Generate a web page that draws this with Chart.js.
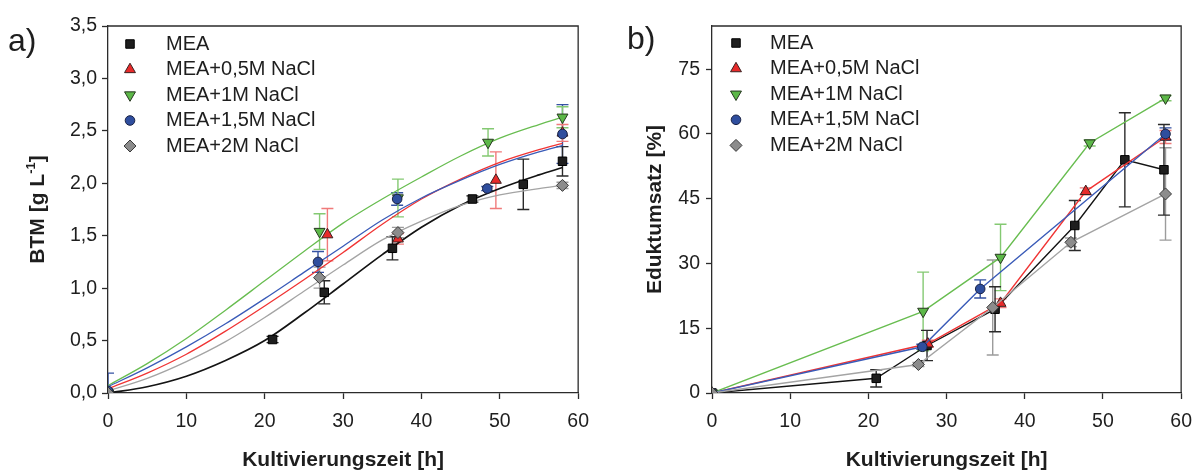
<!DOCTYPE html>
<html>
<head>
<meta charset="utf-8">
<script src="https://cdn.jsdelivr.net/npm/chart.js"></script>
<style>
  html, body { margin: 0; padding: 0; background: #fff; }
  #wrap { position: relative; width: 1203px; height: 474px; overflow: hidden; }
  #chartA { position: absolute; left: 0; top: 0; }
  #chartB { position: absolute; left: 600px; top: 0; }
</style>
</head>
<body>
<div id="wrap">
  <canvas id="chartA" width="600" height="474"></canvas>
  <canvas id="chartB" width="603" height="474"></canvas>
</div>
<script>
// a) BTM over time, measured points
const btmTimeMEA = [0, 21, 27.6, 36.3, 46.5, 53, 58];
const btmMEA     = [0, 0.51, 0.96, 1.38, 1.85, 1.99, 2.21];
const btmErrMEA  = [0.02, 0.03, 0.11, 0.11, 0.03, 0.24, 0.14];

const btmTime05 = [0, 28, 37, 49.5, 58];
const btm05     = [0, 1.51, 1.47, 2.03, 2.48];
const btmErr05  = [0.03, 0.25, 0.05, 0.27, 0.08];

const btmTime1 = [0, 27, 37, 48.5, 58];
const btm1     = [0, 1.54, 1.86, 2.39, 2.63];
const btmErr1  = [0.02, 0.17, 0.18, 0.13, 0.10];

const btmTime15 = [0, 26.8, 36.9, 48.4, 58];
const btm15     = [0.02, 1.25, 1.85, 1.95, 2.47];
const btmErr15  = [0.17, 0.10, 0.06, 0.02, 0.28];

const btmTime2 = [0, 27, 37, 58];
const btm2     = [0, 1.10, 1.53, 1.98];
const btmErr2  = [0.02, 0.10, 0.05, 0.03];

// a) fitted growth curves
const fitTime   = [0, 5, 10, 15, 20, 25, 30, 35, 40, 45, 50, 55, 58];
const fitMEA    = [0.00, 0.06, 0.16, 0.31, 0.50, 0.76, 1.04, 1.32, 1.58, 1.79, 1.95, 2.08, 2.15];
const fitNaCl05 = [0.04, 0.19, 0.37, 0.59, 0.83, 1.08, 1.34, 1.61, 1.85, 2.04, 2.20, 2.32, 2.38];
const fitNaCl1  = [0.07, 0.28, 0.52, 0.79, 1.07, 1.35, 1.62, 1.85, 2.06, 2.26, 2.43, 2.56, 2.63];
const fitNaCl15 = [0.06, 0.24, 0.44, 0.66, 0.90, 1.15, 1.40, 1.65, 1.86, 2.03, 2.18, 2.30, 2.36];
const fitNaCl2  = [0.02, 0.14, 0.30, 0.49, 0.72, 0.97, 1.22, 1.46, 1.64, 1.79, 1.89, 1.95, 1.98];

// b) Eduktumsatz over time
const umsTimeMEA = [0, 21, 27.5, 36.2, 46.4, 52.8, 57.8];
const umsMEA     = [0, 3.4, 11.0, 19.4, 38.8, 54.0, 51.7];
const umsErrMEA  = [0.4, 2.0, 3.5, 5.2, 5.8, 10.9, 10.5];

const umsTime05 = [0, 27.6, 36.9, 47.8, 58];
const ums05     = [0, 11.4, 20.8, 46.7, 59.3];
const umsErr05  = [0.3, 0.8, 1.0, 0.8, 1.5];

const umsTime1 = [0, 27, 36.9, 48.3, 58];
const ums1     = [0, 18.9, 31.4, 57.9, 68.3];
const umsErr1  = [0.3, 9.1, 7.7, 0.7, 0.6];

const umsTime15 = [0, 26.9, 34.3, 58];
const ums15     = [0, 10.7, 24.1, 60.0];
const umsErr15  = [0.3, 0.6, 2.1, 1.4];

const umsTime2 = [0, 26.4, 35.9, 45.9, 58];
const ums2     = [0, 6.6, 19.8, 34.9, 46.1];
const umsErr2  = [0.3, 0.5, 11.0, 1.0, 10.7];

const timeTicks = [0, 10, 20, 30, 40, 50, 60];
const seriesNames = ['MEA', 'MEA+0,5M NaCl', 'MEA+1M NaCl', 'MEA+1,5M NaCl', 'MEA+2M NaCl'];

const FONT = '"Liberation Sans", Arial, Helvetica, sans-serif';
const AXIS = '#2b2b2b';

Chart.defaults.font.family = FONT;
Chart.defaults.color = '#1e1e1e';

const pts = (xs, ys) => xs.map((x, i) => ({ x: x, y: ys[i] }));

// marker look per series
const styles = [
  { pointStyle: 'rect',     pointRadius: 6,   rotation: 0,   fill: '#1e1e1e', edge: '#000000', line: '#141414', err: '#2a2a2a' },
  { pointStyle: 'triangle', pointRadius: 6.3, rotation: 0,   fill: '#e82a2a', edge: '#3a2020', line: '#f03434', err: '#f07a7a' },
  { pointStyle: 'triangle', pointRadius: 6.3, rotation: 180, fill: '#5cb848', edge: '#26361f', line: '#68bd50', err: '#84c972' },
  { pointStyle: 'circle',   pointRadius: 4.8, rotation: 0,   fill: '#2f4e9e', edge: '#1a2244', line: '#3a5bb8', err: '#3552a3' },
  { pointStyle: 'rectRot',  pointRadius: 6,   rotation: 0,   fill: '#8c8c8c', edge: '#3a3a3a', line: '#a4a4a4', err: '#9c9c9c' }
];

function markerSet(i, xs, ys, errs, joinLine) {
  const s = styles[i];
  return {
    label: seriesNames[i],
    data: pts(xs, ys),
    errors: errs,
    errorColor: s.err,
    inLegend: true,
    showLine: joinLine,
    borderColor: s.line,
    borderWidth: 1.4,
    tension: 0,
    pointStyle: s.pointStyle,
    pointRotation: s.rotation,
    pointRadius: s.pointRadius,
    pointHoverRadius: s.pointRadius,
    pointBackgroundColor: s.fill,
    pointBorderColor: s.edge,
    pointBorderWidth: 1,
    order: 5 - i
  };
}

function curveSet(i, ys) {
  return {
    label: seriesNames[i] + ' fit',
    data: pts(fitTime, ys),
    showLine: true,
    borderColor: styles[i].line,
    borderWidth: i === 0 ? 1.7 : 1.3,
    cubicInterpolationMode: 'monotone',
    pointRadius: 0,
    pointHoverRadius: 0,
    order: 20 - i
  };
}

// vertical error bars with caps, drawn beneath the markers
const errorBars = {
  id: 'errorBars',
  beforeDatasetsDraw(chart) {
    const { ctx, chartArea } = chart;
    const xs = chart.scales.x, ys = chart.scales.y;
    ctx.save();
    ctx.beginPath();
    ctx.rect(chartArea.left, chartArea.top, chartArea.right - chartArea.left, chartArea.bottom - chartArea.top);
    ctx.clip();
    ctx.lineWidth = 1.4;
    chart.data.datasets.slice().reverse().forEach(ds => {
      if (!ds.errors) return;
      ctx.strokeStyle = ds.errorColor;
      ds.data.forEach((p, j) => {
        const e = ds.errors[j];
        if (!e) return;
        const x = xs.getPixelForValue(p.x);
        const yTop = ys.getPixelForValue(p.y + e);
        const yBot = ys.getPixelForValue(p.y - e);
        ctx.beginPath();
        ctx.moveTo(x, yTop); ctx.lineTo(x, yBot);
        ctx.moveTo(x - 6, yTop); ctx.lineTo(x + 6, yTop);
        ctx.moveTo(x - 6, yBot); ctx.lineTo(x + 6, yBot);
        ctx.stroke();
      });
    });
    ctx.restore();
  }
};

// top and right frame lines
const frame = {
  id: 'frame',
  afterDraw(chart) {
    const { ctx, chartArea } = chart;
    ctx.save();
    ctx.strokeStyle = AXIS;
    ctx.lineWidth = 1.3;
    ctx.beginPath();
    ctx.moveTo(chartArea.left, chartArea.top);
    ctx.lineTo(chartArea.right, chartArea.top);
    ctx.lineTo(chartArea.right, chartArea.bottom);
    ctx.stroke();
    ctx.restore();
  }
};

// legend box inside the plot area
const innerLegend = {
  id: 'innerLegend',
  afterDraw(chart, args, opts) {
    const { ctx, chartArea } = chart;
    let row = 0;
    ctx.save();
    ctx.font = '20px ' + FONT;
    ctx.textBaseline = 'middle';
    ctx.textAlign = 'left';
    chart.data.datasets.forEach(ds => {
      if (!ds.inLegend) return;
      const y = chartArea.top + opts.top + row * opts.gap;
      ctx.fillStyle = ds.pointBackgroundColor;
      ctx.strokeStyle = ds.pointBorderColor;
      ctx.lineWidth = ds.pointBorderWidth;
      Chart.helpers.drawPoint(ctx, {
        pointStyle: ds.pointStyle,
        rotation: ds.pointRotation,
        radius: ds.pointRadius,
        borderWidth: ds.pointBorderWidth
      }, chartArea.left + opts.markerX, y);
      ctx.fillStyle = '#1e1e1e';
      ctx.fillText(ds.label, chartArea.left + opts.textX, y);
      row++;
    });
    ctx.restore();
  }
};

// panel letter and a y title that needs a superscript
const panelText = {
  id: 'panelText',
  afterDraw(chart, args, opts) {
    const { ctx, chartArea } = chart;
    ctx.save();
    ctx.fillStyle = '#1e1e1e';
    ctx.font = '32px ' + FONT;
    ctx.textBaseline = 'middle';
    ctx.textAlign = 'left';
    ctx.fillText(opts.tag, opts.tagX, opts.tagY);
    if (opts.yBase) {
      const cy = (chartArea.top + chartArea.bottom) / 2;
      const big = 'bold 21px ' + FONT, small = 'bold 13px ' + FONT;
      ctx.font = big;
      const w1 = ctx.measureText(opts.yBase).width;
      const w3 = ctx.measureText(opts.yTail).width;
      ctx.font = small;
      const w2 = ctx.measureText(opts.ySup).width;
      ctx.translate(opts.yTitleX, cy);
      ctx.rotate(-Math.PI / 2);
      ctx.textBaseline = 'alphabetic';
      let x = -(w1 + w2 + w3) / 2;
      ctx.font = big;
      ctx.fillText(opts.yBase, x, 7.5);
      x += w1;
      ctx.font = small;
      ctx.fillText(opts.ySup, x, -1);
      x += w2;
      ctx.font = big;
      ctx.fillText(opts.yTail, x, 7.5);
    }
    ctx.restore();
  }
};

function timeAxis() {
  return {
    type: 'linear',
    min: 0,
    max: 60,
    afterBuildTicks: s => { s.ticks = timeTicks.map(v => ({ value: v })); },
    afterFit: s => { s.height = 81; },
    ticks: { font: { size: 19.5 }, padding: 11, color: '#1e1e1e' },
    grid: { drawOnChartArea: false, drawTicks: true, tickLength: 6, tickColor: AXIS, tickWidth: 1.3 },
    border: { color: AXIS, width: 1.3 },
    title: { display: true, text: 'Kultivierungszeit [h]', font: { size: 21, weight: 'bold' }, padding: { top: 0, bottom: 1 }, color: '#1e1e1e' }
  };
}

const chartA = new Chart(document.getElementById('chartA'), {
  type: 'scatter',
  data: {
    datasets: [
      markerSet(0, btmTimeMEA, btmMEA, btmErrMEA, false),
      markerSet(1, btmTime05, btm05, btmErr05, false),
      markerSet(2, btmTime1, btm1, btmErr1, false),
      markerSet(3, btmTime15, btm15, btmErr15, false),
      markerSet(4, btmTime2, btm2, btmErr2, false),
      curveSet(0, fitMEA),
      curveSet(1, fitNaCl05),
      curveSet(2, fitNaCl1),
      curveSet(3, fitNaCl15),
      curveSet(4, fitNaCl2)
    ]
  },
  options: {
    responsive: false,
    animation: false,
    devicePixelRatio: 1,
    layout: { padding: { left: 0, top: 26, right: 19, bottom: 0 } },
    scales: {
      x: timeAxis(),
      y: {
        type: 'linear',
        min: 0,
        max: 3.5,
        afterFit: s => { s.width = 108; },
        ticks: { stepSize: 0.5, font: { size: 19.5 }, padding: 5, color: '#1e1e1e',
                 callback: v => v.toFixed(1).replace('.', ',') },
        grid: { drawOnChartArea: false, drawTicks: true, tickLength: 6, tickColor: AXIS, tickWidth: 1.3 },
        border: { color: AXIS, width: 1.3 },
        title: { display: false }
      }
    },
    plugins: {
      legend: { display: false },
      tooltip: { enabled: false },
      innerLegend: { top: 18, gap: 25.5, markerX: 22, textX: 58 },
      panelText: { tag: 'a)', tagX: 8, tagY: 42, yTitleX: 36, yBase: 'BTM [g L', ySup: '-1', yTail: ']' }
    }
  },
  plugins: [errorBars, frame, innerLegend, panelText]
});

const chartB = new Chart(document.getElementById('chartB'), {
  type: 'scatter',
  data: {
    datasets: [
      markerSet(0, umsTimeMEA, umsMEA, umsErrMEA, true),
      markerSet(1, umsTime05, ums05, umsErr05, true),
      markerSet(2, umsTime1, ums1, umsErr1, true),
      markerSet(3, umsTime15, ums15, umsErr15, true),
      markerSet(4, umsTime2, ums2, umsErr2, true)
    ]
  },
  options: {
    responsive: false,
    animation: false,
    devicePixelRatio: 1,
    layout: { padding: { left: 0, top: 26, right: 17, bottom: 0 } },
    scales: {
      x: timeAxis(),
      y: {
        type: 'linear',
        min: 0,
        max: 85,
        afterFit: s => { s.width = 112; },
        ticks: { stepSize: 15, includeBounds: false, font: { size: 19.5 }, padding: 6, color: '#1e1e1e' },
        grid: { drawOnChartArea: false, drawTicks: true, tickLength: 6, tickColor: AXIS, tickWidth: 1.3 },
        border: { color: AXIS, width: 1.3 },
        title: { display: true, text: 'Eduktumsatz [%]', font: { size: 21, weight: 'bold' }, padding: { top: 43 }, color: '#1e1e1e' }
      }
    },
    plugins: {
      legend: { display: false },
      tooltip: { enabled: false },
      innerLegend: { top: 17, gap: 25.6, markerX: 24, textX: 58 },
      panelText: { tag: 'b)', tagX: 27, tagY: 40 }
    }
  },
  plugins: [errorBars, frame, innerLegend, panelText]
});
</script>
</body>
</html>
